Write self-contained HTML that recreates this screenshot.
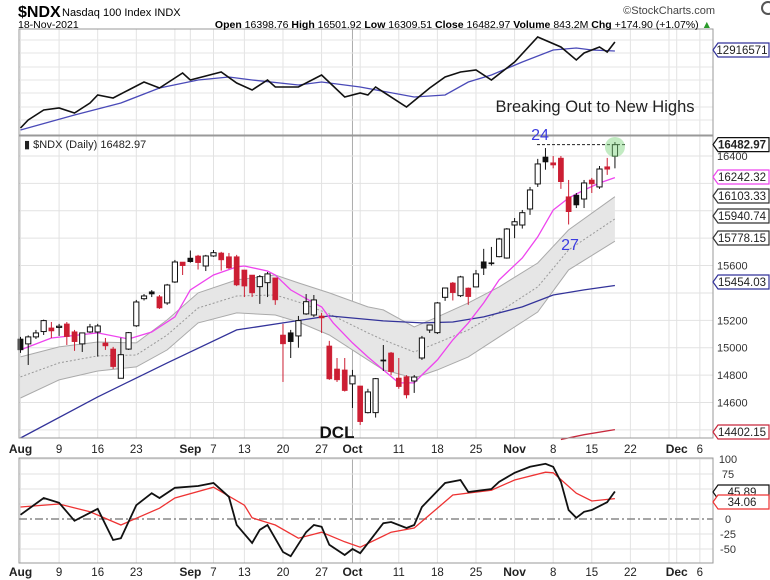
<!DOCTYPE html>
<html><head><meta charset="utf-8">
<style>
html,body{margin:0;padding:0;background:#fff;}
svg{display:block;font-family:"Liberation Sans",Arial,sans-serif;}
</style></head>
<body>
<svg id="chart" width="770" height="580" viewBox="0 0 770 580">
  <g id="bg"><rect x="0" y="0" width="770" height="580" fill="#fff"/></g>
  <g id="grid"></g>
  <g id="topPanel"></g>
  <g id="main"></g>
  <g id="bot"></g>
  <g id="axes"></g>
  <g id="hdr">
    <text x="18" y="17" font-size="16" font-weight="bold">$NDX</text>
    <text x="62" y="16" font-size="11">Nasdaq 100 Index  INDX</text>
    <text x="18" y="28" font-size="10.5">18-Nov-2021</text>
    <text x="712" y="28" font-size="10.5" text-anchor="end"><tspan font-weight="bold">Open</tspan> 16398.76 <tspan font-weight="bold">High</tspan> 16501.92 <tspan font-weight="bold">Low</tspan> 16309.51 <tspan font-weight="bold">Close</tspan> 16482.97 <tspan font-weight="bold">Volume</tspan> 843.2M <tspan font-weight="bold">Chg</tspan> +174.90 (+1.07%) <tspan fill="#2a9a2a">▲</tspan></text>
    <text x="715" y="14" font-size="11" text-anchor="end" fill="#444">©StockCharts.com</text>
    <circle cx="768" cy="8" r="6" fill="none" stroke="#555" stroke-width="2"/>
  </g>
</svg>
<script>
// ---- data ----
const dayLabels = ["Aug","9","16","23","Sep","7","13","20","27","Oct","11","18","25","Nov","8","15","22","Dec","6"];
const dayLabelIdx = [0,5,10,15,22,25,29,34,39,43,49,54,59,64,69,74,79,85,88];
const monthLabel = [1,0,0,0,1,0,0,0,0,1,0,0,0,1,0,0,0,1,0];
const gridIdx = [0,5,10,15,20,22,25,29,34,39,43,44,49,54,59,64,69,74,79,84,85,88];
const openV = [15064,15028,15079,15118,15145,15155,15174,15117,15028,15115,15115,15035,14991,14777,14990,15160,15358,15409,15373,15327,15480,15626,15655,15670,15597,15670,15692,15665,15665,15568,15531,15446,15475,15510,15093,15110,15086,15247,15239,15232,15013,14845,14838,14736,14721,14526,14526,14911,14962,14779,14789,14757,14925,15129,15110,15368,15473,15380,15436,15444,15628,15621,15665,15655,15896,15896,16013,16196,16393,16351,16385,16103,16115,16086,16225,16174,16322,16399];
const highV = [15079,15090,15130,15205,15188,15174,15188,15130,15108,15174,15174,15071,15006,15072,15115,15349,15392,15421,15385,15466,15641,15626,15710,15678,15678,15714,15700,15692,15678,15568,15531,15531,15553,15510,15174,15130,15232,15392,15385,15255,15050,14925,14925,14838,14721,14700,14779,15020,14969,14925,14800,14801,15086,15166,15334,15436,15480,15525,15440,15568,15722,15736,15802,15874,15947,16006,16174,16379,16458,16400,16400,16225,16130,16225,16240,16327,16386,16502];
const lowV = [14962,14874,15064,15093,15071,15086,15020,14977,14969,15108,14935,14984,14845,14777,14984,15152,15345,15370,15283,15313,15473,15531,15621,15571,15560,15663,15563,15575,15450,15370,15370,15320,15370,15313,14750,14925,15000,15240,15225,15108,14765,14750,14680,14560,14436,14520,14490,14830,14800,14700,14630,14670,14911,15108,15100,15342,15345,15370,15313,15517,15531,15600,15660,15650,15800,15870,15970,16174,16300,16310,16160,15900,16020,16020,16130,16160,16262,16310];
const closeV = [14984,15079,15108,15198,15122,15157,15081,15044,15108,15152,15159,15013,14862,14949,15110,15334,15378,15392,15290,15458,15626,15599,15628,15621,15670,15694,15641,15582,15458,15450,15400,15519,15539,15349,15028,15044,15198,15336,15349,15217,14772,14765,14687,14794,14460,14677,14774,14905,14825,14716,14655,14786,15071,15166,15327,15436,15402,15517,15373,15539,15580,15618,15794,15867,15920,15986,16152,16342,16356,16334,16212,15993,16042,16203,16196,16305,16303,16483];
const pinkIdx = [0,4,10,14,17,20,22,25,28,29,32,33,35,38,39,40.5,43,45,47,49,51,52,54,56,58,60,62,65,67,69,71,73,75,77];
const pinkVal = [14984,15071,15108,15064,15115,15225,15422,15531,15590,15597,15560,15531,15422,15327,15298,15181,15035,14932,14838,14743,14743,14801,14911,15057,15181,15327,15495,15655,15809,16006,16093,16152,16203,16242];
const bandIdx = [0,5,10,15,19,23,28,33,36,40,45,47,51,54,58,62,67,71,77];
const bandUpper = [14933,15006,15042,15035,15203,15400,15495,15531,15473,15400,15298,15276,15152,15225,15327,15444,15619,15860,16103];
const bandMid = [14787,14889,14940,14947,15093,15290,15378,15385,15334,15247,15108,15057,14969,15035,15130,15261,15444,15714,15941];
const bandLower = [14633,14765,14830,14860,14984,15181,15254,15239,15188,15093,14911,14838,14779,14838,14933,15079,15261,15568,15778];
const ma50Idx = [0,10,19,28,34,40,47,52,56,60,65,69,73,77];
const ma50Val = [14341,14641,14889,15130,15181,15232,15196,15181,15188,15225,15298,15385,15422,15454];
const ma200Idx = [70,73,77];
const ma200Val = [14330,14365,14402];
const priceTicks = [16400,16200,16000,15800,15600,15400,15200,15000,14800,14600,14400];
const priceTickShown = [1,0,0,0,1,0,1,1,1,1,0];
const topIdx = [0,1,3,5,7,9,10,12,16,18,21,22,26,28,30,32,33,36,39,42,44,45,46,50,53,55,57,59,61,64,67,70,72,73,75,76,77];
const topVal = [7,15,25,27,22,32,40,37,53,47,62,55,63,52,45,55,48,48,60,38,42,40,48,28,47,58,63,65,55,73,98,88,75,82,88,83,93];
const topMaIdx = [0,7,13,18,23,27,30,36,39,44,51,55,58,61,65,69,72,74,77];
const topMaVal = [5,20,32,47,55,58,55,50,53,48,38,40,53,60,73,85,87,85,84];
const topGrid = [15,28,42,55,68,82,95];
const momIdx = [0,3,5,7,10,12,13,15,17,18,20,23,25,27,28,30,31,32,34,35,37,38,39,40,42,43,44,47,48,50,51,52,55,57,58,61,62,64,66,68,69,70,71,72,73,74,76,77];
const momVal = [7,35,27,-3,17,-35,-32,23,43,35,52,55,60,37,-10,-40,-18,-10,-55,-62,-22,-10,-13,-43,-60,-50,-57,-7,-5,-15,-10,20,60,65,45,50,62,77,87,92,87,62,15,2,12,15,28,45.89];
const sigIdx = [0,5,9,13,18,20,25,29,30,33,36,39,42,44,48,51,53,56,61,64,68,69,72,74,77];
const sigVal = [20,25,12,-10,18,35,53,23,2,-10,-32,-22,-38,-47,-22,-15,7,40,48,65,78,77,43,30,34.06];
const momTicks = [100,75,50,25,0,-25,-50];

// ---- scales ----
const NS = "http://www.w3.org/2000/svg";
const L = 19, R = 713;
function xs(i){ return 20.5 + 7.72*i; }
function yP(p){ return 156 + (16400-p)*0.13694; }
function yT(v){ return 135 - v; }
function yM(v){ return 519 - v*0.6; }
function mk(tag, attrs, parent){
  const e = document.createElementNS(NS, tag);
  for (const k in attrs) e.setAttribute(k, attrs[k]);
  parent.appendChild(e); return e;
}
function pathFrom(idx, vals, fy){
  return idx.map((i,k)=>(k?"L":"M")+xs(i).toFixed(1)+","+fy(vals[k]).toFixed(1)).join(" ");
}
const gridG = document.getElementById('grid');
const topG = document.getElementById('topPanel');
const mainG = document.getElementById('main');
const botG = document.getElementById('bot');
const axesG = document.getElementById('axes');

// panels frames
const panels = [[29,135],[136,438],[458,563]];
panels.forEach((p,k)=>{
  const r = mk('rect',{x:L,y:p[0],width:R-L,height:p[1]-p[0],fill:'none',stroke:'#999','stroke-width':1},axesG);
  
  
});

// vertical grid
gridIdx.forEach(i=>{
  panels.forEach(p=>{
    const ln = mk('line',{x1:xs(i),x2:xs(i),y1:p[0],y2:p[1],stroke:i===43?'#aaa':'#e2e2e2','stroke-width':1},gridG);
    
    
  });
});
// horizontal grids
priceTicks.forEach((t,k)=>{
  const ln = mk('line',{x1:L,x2:R,y1:yP(t),y2:yP(t),stroke:'#e2e2e2'},gridG);
  
  
  if (priceTickShown[k]) {
    const tx = mk('text',{x:717,y:yP(t)+4,'font-size':11,fill:'#333'},axesG);
    tx.textContent = t;
    
    
  }
});
topGrid.forEach(v=>{
  const ln = mk('line',{x1:L,x2:R,y1:yT(v),y2:yT(v),stroke:'#e6e6e6'},gridG);
  
  
});
momTicks.forEach(v=>{
  if (v!==0){
    const ln = mk('line',{x1:L,x2:R,y1:yM(v),y2:yM(v),stroke:'#e2e2e2'},gridG);
    
    
  }
  const tx = mk('text',{x:728,y:yM(v)+4,'font-size':11,fill:'#333','text-anchor':'middle'},axesG);
  tx.textContent = v;
  
  
});
const zl = mk('line',{x1:L,x2:R,y1:yM(0),y2:yM(0),stroke:'#888','stroke-width':1.5,'stroke-dasharray':'8,3,2,3'},botG);



// date labels
[449,572].forEach(yy=>{
  dayLabels.forEach((lab,k)=>{
    const tx = mk('text',{x:xs(dayLabelIdx[k]),y:yy+4,'font-size':monthLabel[k]?12:11.5,'font-weight':monthLabel[k]?'bold':'normal','text-anchor':'middle',fill:'#222'},axesG);
    tx.textContent = lab;
    
    
  });
});

// top panel
const tMa = mk('path',{d:pathFrom(topMaIdx,topMaVal,yT),fill:'none',stroke:'#4a4ab8','stroke-width':1.3},topG);


const tLn = mk('path',{d:pathFrom(topIdx,topVal,yT),fill:'none',stroke:'#111','stroke-width':1.6},topG);



// band
const bandD = pathFrom(bandIdx,bandUpper,yP) + " " + bandIdx.slice().reverse().map((i,k)=>"L"+xs(i).toFixed(1)+","+yP(bandLower[bandLower.length-1-k]).toFixed(1)).join(" ") + " Z";
const band = mk('path',{d:bandD,fill:'#e6e6e6',stroke:'none'},mainG);


const bu = mk('path',{d:pathFrom(bandIdx,bandUpper,yP),fill:'none',stroke:'#aaa'},mainG);


const bl = mk('path',{d:pathFrom(bandIdx,bandLower,yP),fill:'none',stroke:'#aaa'},mainG);


const bm = mk('path',{d:pathFrom(bandIdx,bandMid,yP),fill:'none',stroke:'#999','stroke-dasharray':'2,2'},mainG);


const m50 = mk('path',{d:pathFrom(ma50Idx,ma50Val,yP),fill:'none',stroke:'#33339a','stroke-width':1.3},mainG);


const m200 = mk('path',{d:pathFrom(ma200Idx,ma200Val,yP),fill:'none',stroke:'#c8283c','stroke-width':1.3},mainG);


const pk = mk('path',{d:pathFrom(pinkIdx,pinkVal,yP),fill:'none',stroke:'#ee44ee','stroke-width':1.3},mainG);



// candles
closeV.forEach((c,i)=>{
  const o = openV[i], prev = i? closeV[i-1] : c;
  const col = c < prev ? '#cc1e33' : '#111';
  const g = mk('g',{},mainG);
  
  
  const x = xs(i);
  mk('line',{x1:x,x2:x,y1:yP(highV[i]),y2:yP(lowV[i]),stroke:col,'stroke-width':1},g);
  const top_ = yP(Math.max(o,c)), h = Math.max(1.2, Math.abs(yP(o)-yP(c)));
  const hollow = c > o;
  mk('rect',{x:x-2.6,y:top_,width:5.2,height:h,fill:hollow?'#fff':col,stroke:col,'stroke-width':hollow?1:0.5},g);
});

// momentum panel
const sg = mk('path',{d:pathFrom(sigIdx,sigVal,yM),fill:'none',stroke:'#ee3333','stroke-width':1.3},botG);


const mm = mk('path',{d:pathFrom(momIdx,momVal,yM),fill:'none',stroke:'#111','stroke-width':1.8},botG);



// tags
function tag(y, txt, col, name, bold){
  const g = mk('g',{},axesG);
  
  
  mk('polygon',{points:`713,${y} 718,${y-7} 769,${y-7} 769,${y+7} 718,${y+7}`,fill:'#fff',stroke:col,'stroke-width':1.2},g);
  const t = mk('text',{x:742,y:y+4,'font-size':11.5,'text-anchor':'middle',fill:'#222','font-weight':bold?'bold':'normal'},g);
  t.textContent = txt;
}
tag(50,'12916571','#33339a','top-value-tag');
tag(yP(16483),'16482.97','#111','close-tag',true);
tag(177,'16242.32','#ee44ee','ma10-tag');
tag(196,'16103.33','#333','upper-channel-tag');
tag(216,'15940.74','#333','middle-channel-tag');
tag(238,'15778.15','#333','lower-channel-tag');
tag(282,'15454.03','#33339a','ma50-tag');
tag(432,'14402.15','#c8283c','ma200-tag');
tag(492,'45.89','#111','momentum-tag');
tag(502,'34.06','#ee3333','signal-tag');

// annotations
const dash = mk('line',{x1:537,x2:627,y1:yP(16483),y2:yP(16483),stroke:'#222','stroke-dasharray':'3,2'},mainG);


const gc = mk('circle',{cx:xs(77),cy:147,r:10,fill:'rgba(120,210,120,0.45)'},mainG);


function note(x,y,txt,size,col,bold,name){
  const t = mk('text',{x:x,y:y,'font-size':size,fill:col,'font-weight':bold?'bold':'normal','text-anchor':'middle'},axesG);
  t.textContent = txt;
  
  
}
note(595,112,'Breaking Out to New Highs',16.5,'#222',false,'breakout-annotation');
note(540,140,'24',16,'#3c3ce0',false,'count-24-label');
note(570,250,'27',16,'#3c3ce0',false,'count-27-label');
note(337,438,'DCL',17,'#111',true,'dcl-label');
const lbl = mk('text',{x:24,y:148,'font-size':11,fill:'#222'},axesG);
lbl.textContent = '▮ $NDX (Daily) 16482.97';


</script>
</body></html>
